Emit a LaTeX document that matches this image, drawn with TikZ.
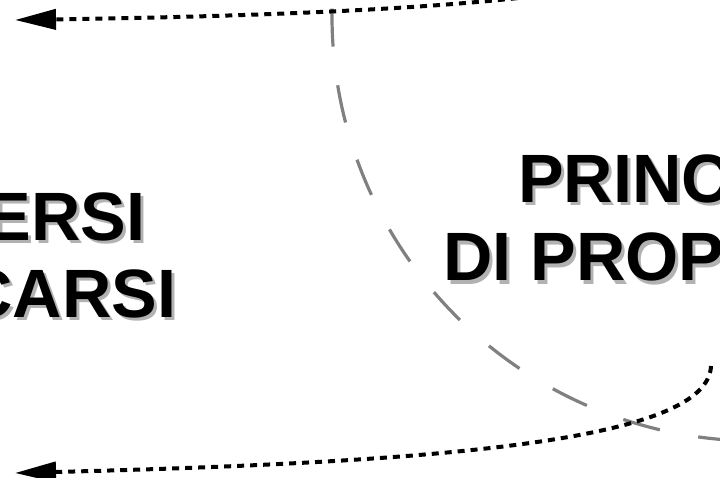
\documentclass[tikz,border=0pt]{standalone}
\usepackage{fontspec}
\usepackage{xcolor}
\usetikzlibrary{arrows.meta}
\setmainfont{Liberation Sans}

\tikzset{
  titolo/.style={inner sep=0pt, font=\bfseries\fontsize{68.4}{78}\selectfont},
  ombra/.style={titolo, text=black!30},
  freccia/.style={line width=4pt, dash pattern=on 7pt off 6pt,
    -{Triangle[length=41pt,width=20pt]}},
  confine/.style={gray, line width=3.2pt, dash pattern=on 38pt off 39pt}
}

\begin{document}
\begin{tikzpicture}[x=1pt, y=-1pt]
    \path[use as bounding box] (0,0) rectangle (720,478);
    \clip (0,0) rectangle (720,478);

    % testi con ombra
    \node[ombra, anchor=base east] (ersiS) at (148.6,244) {ERSI};
    \node[titolo, anchor=base east] (ersi) at (145.6,241) {ERSI};
    \node[ombra, anchor=base east] (carsiS) at (179.6,320) {CARSI};
    \node[titolo, anchor=base east] (carsi) at (176.6,317) {CARSI};
    \node[ombra, anchor=base west] (princS) at (521,206) {PRINC};
    \node[titolo, anchor=base west] (princ) at (518,203) {PRINC};
    \node[ombra, anchor=base west] (dipropS) at (446,284) {DI PROP};
    \node[titolo, anchor=base west] (diprop) at (443,281) {DI PROP};

    % confine
    \coordinate (centro) at (757,16);
    \draw[confine] (centro) ++(181:425) arc[start angle=181, end angle=88, radius=425];

    % frecce
    \coordinate (sopra) at (711,-60);
    \coordinate (sotto) at (711,366);
    \coordinate (fineA) at (15,20);
    \coordinate (fineB) at (15,473);
    \draw[freccia] (sopra) .. controls (700,-5) and (420,14) .. (fineA);
    \draw[freccia] (sotto) .. controls (708,440) and (450,462) .. (fineB);
\end{tikzpicture}
\end{document}
